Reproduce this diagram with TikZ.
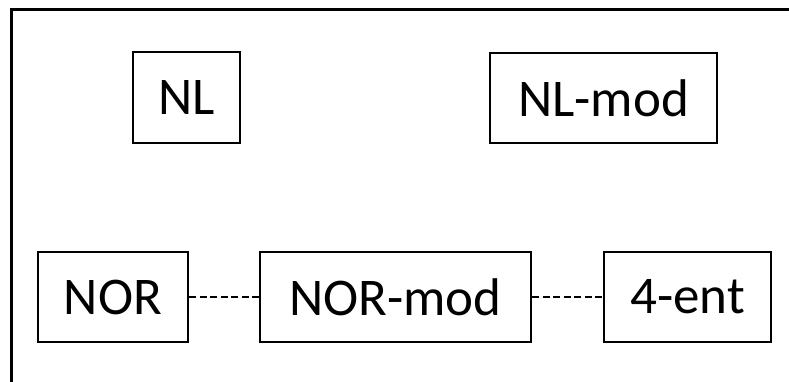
\documentclass[tikz,border=0pt]{standalone}
\usepackage{fontspec}
\setmainfont{Carlito}
\begin{document}
\begin{tikzpicture}[x=1pt,y=-1pt,
  box/.style={draw, line width=2.5pt, inner sep=0pt, font=\fontsize{53}{60}\selectfont},
  link/.style={line width=2.6pt, dash pattern=on 7pt off 3.5pt}]
\useasboundingbox (0,0) rectangle (789,381);
\draw[line width=3pt] (11,400) -- (11,9) -- (800,9);
\node[box, minimum width=107pt, minimum height=91pt] (nl) at (186.5,97.5) {NL};
\node[box, minimum width=227pt, minimum height=90pt] (nlmod) at (603.5,98) {NL-mod};
\node[box, minimum width=150pt, minimum height=90pt] (nor) at (113,297) {NOR};
\node[box, minimum width=271pt, minimum height=90pt] (normod) at (395.5,297) {NOR-mod};
\node[box, minimum width=167pt, minimum height=90pt] (ent) at (687.5,297) {4-ent};
\draw[link] (nor) -- (normod);
\draw[link] (normod) -- (ent);
\end{tikzpicture}
\end{document}
